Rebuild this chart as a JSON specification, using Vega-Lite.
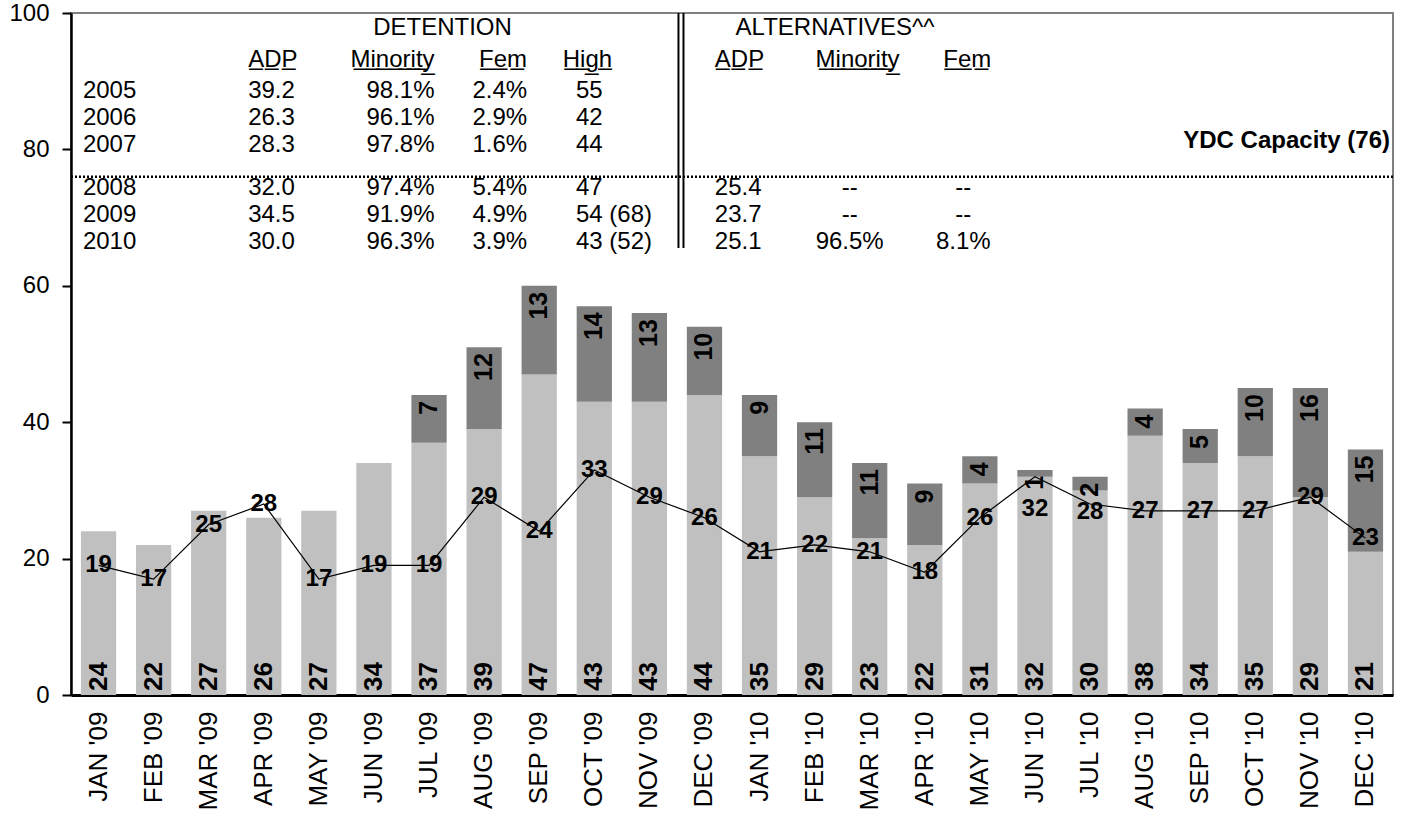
{
  "$schema": "https://vega.github.io/schema/vega-lite/v6.json",
  "width": 1322,
  "height": 682,
  "autosize": {"type": "none"},
  "padding": {"left": 71, "top": 13, "right": 18, "bottom": 120},
  "background": "white",
  "config": {
    "font": "Liberation Sans",
    "view": {"stroke": "#808080", "strokeWidth": 2},
    "text": {"font": "Liberation Sans", "fontSize": 24, "color": "black"},
    "axis": {"labelFont": "Liberation Sans", "labelColor": "black", "domainColor": "black", "tickColor": "black"}
  },
  "datasets": {
    "months": [
      {"month": "JAN '09", "lower": 24, "upper": 0, "line": 19},
      {"month": "FEB '09", "lower": 22, "upper": 0, "line": 17},
      {"month": "MAR '09", "lower": 27, "upper": 0, "line": 25},
      {"month": "APR '09", "lower": 26, "upper": 0, "line": 28},
      {"month": "MAY '09", "lower": 27, "upper": 0, "line": 17},
      {"month": "JUN '09", "lower": 34, "upper": 0, "line": 19},
      {"month": "JUL '09", "lower": 37, "upper": 7, "line": 19},
      {"month": "AUG '09", "lower": 39, "upper": 12, "line": 29},
      {"month": "SEP '09", "lower": 47, "upper": 13, "line": 24},
      {"month": "OCT '09", "lower": 43, "upper": 14, "line": 33},
      {"month": "NOV '09", "lower": 43, "upper": 13, "line": 29},
      {"month": "DEC '09", "lower": 44, "upper": 10, "line": 26},
      {"month": "JAN '10", "lower": 35, "upper": 9, "line": 21},
      {"month": "FEB '10", "lower": 29, "upper": 11, "line": 22},
      {"month": "MAR '10", "lower": 23, "upper": 11, "line": 21},
      {"month": "APR '10", "lower": 22, "upper": 9, "line": 18},
      {"month": "MAY '10", "lower": 31, "upper": 4, "line": 26},
      {"month": "JUN '10", "lower": 32, "upper": 1, "line": 32},
      {"month": "JUL '10", "lower": 30, "upper": 2, "line": 28},
      {"month": "AUG '10", "lower": 38, "upper": 4, "line": 27},
      {"month": "SEP '10", "lower": 34, "upper": 5, "line": 27},
      {"month": "OCT '10", "lower": 35, "upper": 10, "line": 27},
      {"month": "NOV '10", "lower": 29, "upper": 16, "line": 29},
      {"month": "DEC '10", "lower": 21, "upper": 15, "line": 23}
    ],
    "table": [
      {"year": 2005, "adp": "39.2", "minority": "98.1%", "fem": "2.4%", "high": "55", "alt_adp": "", "alt_minority": "", "alt_fem": ""},
      {"year": 2006, "adp": "26.3", "minority": "96.1%", "fem": "2.9%", "high": "42", "alt_adp": "", "alt_minority": "", "alt_fem": ""},
      {"year": 2007, "adp": "28.3", "minority": "97.8%", "fem": "1.6%", "high": "44", "alt_adp": "", "alt_minority": "", "alt_fem": ""},
      {"year": 2008, "adp": "32.0", "minority": "97.4%", "fem": "5.4%", "high": "47", "alt_adp": "25.4", "alt_minority": "--", "alt_fem": "--"},
      {"year": 2009, "adp": "34.5", "minority": "91.9%", "fem": "4.9%", "high": "54 (68)", "alt_adp": "23.7", "alt_minority": "--", "alt_fem": "--"},
      {"year": 2010, "adp": "30.0", "minority": "96.3%", "fem": "3.9%", "high": "43 (52)", "alt_adp": "25.1", "alt_minority": "96.5%", "alt_fem": "8.1%"}
    ],
    "headers": [
      {"col": "det_title", "label": "DETENTION"},
      {"col": "alt_title", "label": "ALTERNATIVES^^"},
      {"col": "adp", "label": "A\u0332D\u0332P\u0332"},
      {"col": "minority", "label": "M\u0332i\u0332n\u0332o\u0332r\u0332i\u0332t\u0332y\u0332"},
      {"col": "fem", "label": "F\u0332e\u0332m\u0332"},
      {"col": "high", "label": "H\u0332i\u0332g\u0332h\u0332"},
      {"col": "alt_adp", "label": "A\u0332D\u0332P\u0332"},
      {"col": "alt_minority", "label": "M\u0332i\u0332n\u0332o\u0332r\u0332i\u0332t\u0332y\u0332"},
      {"col": "alt_fem", "label": "F\u0332e\u0332m\u0332"}
    ],
    "capacity": [
      {"label": "YDC Capacity (76)", "capacity": 76}
    ]
  },
  "resolve": {"scale": {"x": "independent", "y": "independent"}},
  "layer": [
    {
      "data": {"name": "months"},
      "layer": [
        {
          "transform": [{"fold": ["lower", "upper"], "as": ["part", "value"]}],
          "mark": {"type": "bar"},
          "encoding": {
            "x": {
              "field": "month", "type": "ordinal", "sort": null,
              "scale": {"paddingInner": 0.36, "paddingOuter": 0.18},
              "axis": {"title": null, "labelAngle": 270, "labelFontSize": 26, "ticks": false, "labelPadding": 16, "domainWidth": 3}
            },
            "y": {
              "field": "value", "type": "quantitative", "stack": "zero",
              "scale": {"domain": [0, 100], "nice": false},
              "axis": {"title": null, "values": [0, 20, 40, 60, 80, 100], "grid": false, "labelFontSize": 24, "tickSize": 9, "tickWidth": 2, "domainWidth": 2.5, "labelPadding": 13}
            },
            "color": {"field": "part", "type": "nominal", "scale": {"domain": ["lower", "upper"], "range": ["#C0C0C0", "#808080"]}, "legend": null},
            "order": {"field": "part", "sort": "ascending"}
          }
        },
        {
          "data": {"name": "capacity"},
          "mark": {"type": "rule", "color": "black", "strokeWidth": 2.5, "strokeDash": [2, 2]},
          "encoding": {"y": {"field": "capacity", "type": "quantitative"}}
        },
        {
          "data": {"name": "capacity"},
          "mark": {"type": "text", "align": "right", "baseline": "alphabetic", "dx": -3, "dy": -29, "fontWeight": "bold", "fontSize": 24},
          "encoding": {
            "x": {"value": "width"},
            "y": {"field": "capacity", "type": "quantitative"},
            "text": {"field": "label"}
          }
        },
        {
          "mark": {"type": "text", "angle": 270, "align": "left", "baseline": "middle", "dx": 4, "fontWeight": "bold", "fontSize": 26},
          "encoding": {
            "x": {"field": "month", "type": "ordinal", "sort": null},
            "y": {"datum": 0},
            "text": {"field": "lower", "type": "quantitative"}
          }
        },
        {
          "transform": [{"fold": ["lower", "upper"], "as": ["part", "value"]}],
          "mark": {"type": "text", "angle": 270, "align": "right", "baseline": "middle", "dx": -6, "fontWeight": "bold", "fontSize": 25},
          "encoding": {
            "x": {"field": "month", "type": "ordinal", "sort": null},
            "y": {"field": "value", "type": "quantitative", "stack": "zero"},
            "detail": {"field": "part"},
            "order": {"field": "part", "sort": "ascending"},
            "text": {"condition": {"test": "datum.part === 'upper' && datum.value > 0", "field": "value", "type": "quantitative"}, "value": ""}
          }
        },
        {
          "mark": {"type": "line", "color": "black", "strokeWidth": 1.2},
          "encoding": {
            "x": {"field": "month", "type": "ordinal", "sort": null},
            "y": {"field": "line", "type": "quantitative"}
          }
        },
        {
          "transform": [{"filter": "datum.month !== \"JUN '10\" && datum.month !== \"JUL '10\""}],
          "mark": {"type": "text", "baseline": "middle", "fontWeight": "bold", "fontSize": 24},
          "encoding": {
            "x": {"field": "month", "type": "ordinal", "sort": null},
            "y": {"field": "line", "type": "quantitative"},
            "text": {"field": "line", "type": "quantitative"}
          }
        },
        {
          "transform": [{"filter": "datum.month === \"JUN '10\""}],
          "mark": {"type": "text", "baseline": "middle", "dy": 32, "fontWeight": "bold", "fontSize": 24},
          "encoding": {
            "x": {"field": "month", "type": "ordinal", "sort": null},
            "y": {"field": "line", "type": "quantitative"},
            "text": {"field": "line", "type": "quantitative"}
          }
        },
        {
          "transform": [{"filter": "datum.month === \"JUL '10\""}],
          "mark": {"type": "text", "baseline": "middle", "dy": 8, "fontWeight": "bold", "fontSize": 24},
          "encoding": {
            "x": {"field": "month", "type": "ordinal", "sort": null},
            "y": {"field": "line", "type": "quantitative"},
            "text": {"field": "line", "type": "quantitative"}
          }
        }
      ]
    },
    {
      "data": {"name": "table"},
      "layer": [
        {
          "data": {"values": [{}]},
          "mark": {"type": "rule", "color": "black", "strokeWidth": 2},
          "encoding": {
            "x": {"datum": 45.95, "type": "quantitative", "scale": {"domain": [0, 100], "nice": false, "zero": false}, "axis": null},
            "y": {"datum": 2002.111, "type": "quantitative", "scale": {"domain": [2002.111, 2027.37], "reverse": true, "nice": false, "zero": false}, "axis": null},
            "y2": {"datum": 2010.815}
          }
        },
        {
          "data": {"values": [{}]},
          "mark": {"type": "rule", "color": "black", "strokeWidth": 2},
          "encoding": {
            "x": {"datum": 46.33, "type": "quantitative"},
            "y": {"datum": 2002.111, "type": "quantitative"},
            "y2": {"datum": 2010.815}
          }
        },
        {
          "data": {"name": "headers"},
          "transform": [{"filter": "datum.col === 'det_title'"}],
          "mark": {"type": "text", "align": "center", "baseline": "middle"},
          "encoding": {"x": {"datum": 28.1, "type": "quantitative"}, "y": {"datum": 2002.667, "type": "quantitative"}, "text": {"field": "label"}}
        },
        {
          "data": {"name": "headers"},
          "transform": [{"filter": "datum.col === 'alt_title'"}],
          "mark": {"type": "text", "align": "center", "baseline": "middle"},
          "encoding": {"x": {"datum": 57.8, "type": "quantitative"}, "y": {"datum": 2002.667, "type": "quantitative"}, "text": {"field": "label"}}
        },
        {
          "data": {"name": "headers"},
          "transform": [{"filter": "datum.col === 'adp'"}],
          "mark": {"type": "text", "align": "left", "baseline": "middle"},
          "encoding": {"x": {"datum": 13.4, "type": "quantitative"}, "y": {"datum": 2003.852, "type": "quantitative"}, "text": {"field": "label"}}
        },
        {
          "data": {"name": "headers"},
          "transform": [{"filter": "datum.col === 'minority'"}],
          "mark": {"type": "text", "align": "right", "baseline": "middle"},
          "encoding": {"x": {"datum": 27.5, "type": "quantitative"}, "y": {"datum": 2003.852, "type": "quantitative"}, "text": {"field": "label"}}
        },
        {
          "data": {"name": "headers"},
          "transform": [{"filter": "datum.col === 'fem'"}],
          "mark": {"type": "text", "align": "right", "baseline": "middle"},
          "encoding": {"x": {"datum": 34.5, "type": "quantitative"}, "y": {"datum": 2003.852, "type": "quantitative"}, "text": {"field": "label"}}
        },
        {
          "data": {"name": "headers"},
          "transform": [{"filter": "datum.col === 'high'"}],
          "mark": {"type": "text", "align": "left", "baseline": "middle"},
          "encoding": {"x": {"datum": 37.2, "type": "quantitative"}, "y": {"datum": 2003.852, "type": "quantitative"}, "text": {"field": "label"}}
        },
        {
          "data": {"name": "headers"},
          "transform": [{"filter": "datum.col === 'alt_adp'"}],
          "mark": {"type": "text", "align": "left", "baseline": "middle"},
          "encoding": {"x": {"datum": 48.7, "type": "quantitative"}, "y": {"datum": 2003.852, "type": "quantitative"}, "text": {"field": "label"}}
        },
        {
          "data": {"name": "headers"},
          "transform": [{"filter": "datum.col === 'alt_minority'"}],
          "mark": {"type": "text", "align": "center", "baseline": "middle"},
          "encoding": {"x": {"datum": 59.5, "type": "quantitative"}, "y": {"datum": 2003.852, "type": "quantitative"}, "text": {"field": "label"}}
        },
        {
          "data": {"name": "headers"},
          "transform": [{"filter": "datum.col === 'alt_fem'"}],
          "mark": {"type": "text", "align": "center", "baseline": "middle"},
          "encoding": {"x": {"datum": 67.8, "type": "quantitative"}, "y": {"datum": 2003.852, "type": "quantitative"}, "text": {"field": "label"}}
        },
        {
          "transform": [{"filter": "datum.year < 2008"}],
          "mark": {"type": "text", "align": "left", "baseline": "middle"},
          "encoding": {"x": {"datum": 0.9, "type": "quantitative"}, "y": {"field": "year", "type": "quantitative"}, "text": {"field": "year", "type": "nominal"}}
        },
        {
          "transform": [{"filter": "datum.year >= 2008"}],
          "mark": {"type": "text", "align": "left", "baseline": "middle", "dy": 16},
          "encoding": {"x": {"datum": 0.9, "type": "quantitative"}, "y": {"field": "year", "type": "quantitative"}, "text": {"field": "year", "type": "nominal"}}
        },
        {
          "transform": [{"filter": "datum.year < 2008"}],
          "mark": {"type": "text", "align": "left", "baseline": "middle"},
          "encoding": {"x": {"datum": 13.4, "type": "quantitative"}, "y": {"field": "year", "type": "quantitative"}, "text": {"field": "adp"}}
        },
        {
          "transform": [{"filter": "datum.year >= 2008"}],
          "mark": {"type": "text", "align": "left", "baseline": "middle", "dy": 16},
          "encoding": {"x": {"datum": 13.4, "type": "quantitative"}, "y": {"field": "year", "type": "quantitative"}, "text": {"field": "adp"}}
        },
        {
          "transform": [{"filter": "datum.year < 2008"}],
          "mark": {"type": "text", "align": "right", "baseline": "middle"},
          "encoding": {"x": {"datum": 27.5, "type": "quantitative"}, "y": {"field": "year", "type": "quantitative"}, "text": {"field": "minority"}}
        },
        {
          "transform": [{"filter": "datum.year >= 2008"}],
          "mark": {"type": "text", "align": "right", "baseline": "middle", "dy": 16},
          "encoding": {"x": {"datum": 27.5, "type": "quantitative"}, "y": {"field": "year", "type": "quantitative"}, "text": {"field": "minority"}}
        },
        {
          "transform": [{"filter": "datum.year < 2008"}],
          "mark": {"type": "text", "align": "right", "baseline": "middle"},
          "encoding": {"x": {"datum": 34.5, "type": "quantitative"}, "y": {"field": "year", "type": "quantitative"}, "text": {"field": "fem"}}
        },
        {
          "transform": [{"filter": "datum.year >= 2008"}],
          "mark": {"type": "text", "align": "right", "baseline": "middle", "dy": 16},
          "encoding": {"x": {"datum": 34.5, "type": "quantitative"}, "y": {"field": "year", "type": "quantitative"}, "text": {"field": "fem"}}
        },
        {
          "transform": [{"filter": "datum.year < 2008"}],
          "mark": {"type": "text", "align": "left", "baseline": "middle"},
          "encoding": {"x": {"datum": 38.2, "type": "quantitative"}, "y": {"field": "year", "type": "quantitative"}, "text": {"field": "high"}}
        },
        {
          "transform": [{"filter": "datum.year >= 2008"}],
          "mark": {"type": "text", "align": "left", "baseline": "middle", "dy": 16},
          "encoding": {"x": {"datum": 38.2, "type": "quantitative"}, "y": {"field": "year", "type": "quantitative"}, "text": {"field": "high"}}
        },
        {
          "transform": [{"filter": "datum.year >= 2008"}],
          "mark": {"type": "text", "align": "left", "baseline": "middle", "dy": 16},
          "encoding": {"x": {"datum": 48.7, "type": "quantitative"}, "y": {"field": "year", "type": "quantitative"}, "text": {"field": "alt_adp"}}
        },
        {
          "transform": [{"filter": "datum.year >= 2008"}],
          "mark": {"type": "text", "align": "center", "baseline": "middle", "dy": 16},
          "encoding": {"x": {"datum": 58.9, "type": "quantitative"}, "y": {"field": "year", "type": "quantitative"}, "text": {"field": "alt_minority"}}
        },
        {
          "transform": [{"filter": "datum.year >= 2008"}],
          "mark": {"type": "text", "align": "center", "baseline": "middle", "dy": 16},
          "encoding": {"x": {"datum": 67.5, "type": "quantitative"}, "y": {"field": "year", "type": "quantitative"}, "text": {"field": "alt_fem"}}
        }
      ]
    }
  ]
}
